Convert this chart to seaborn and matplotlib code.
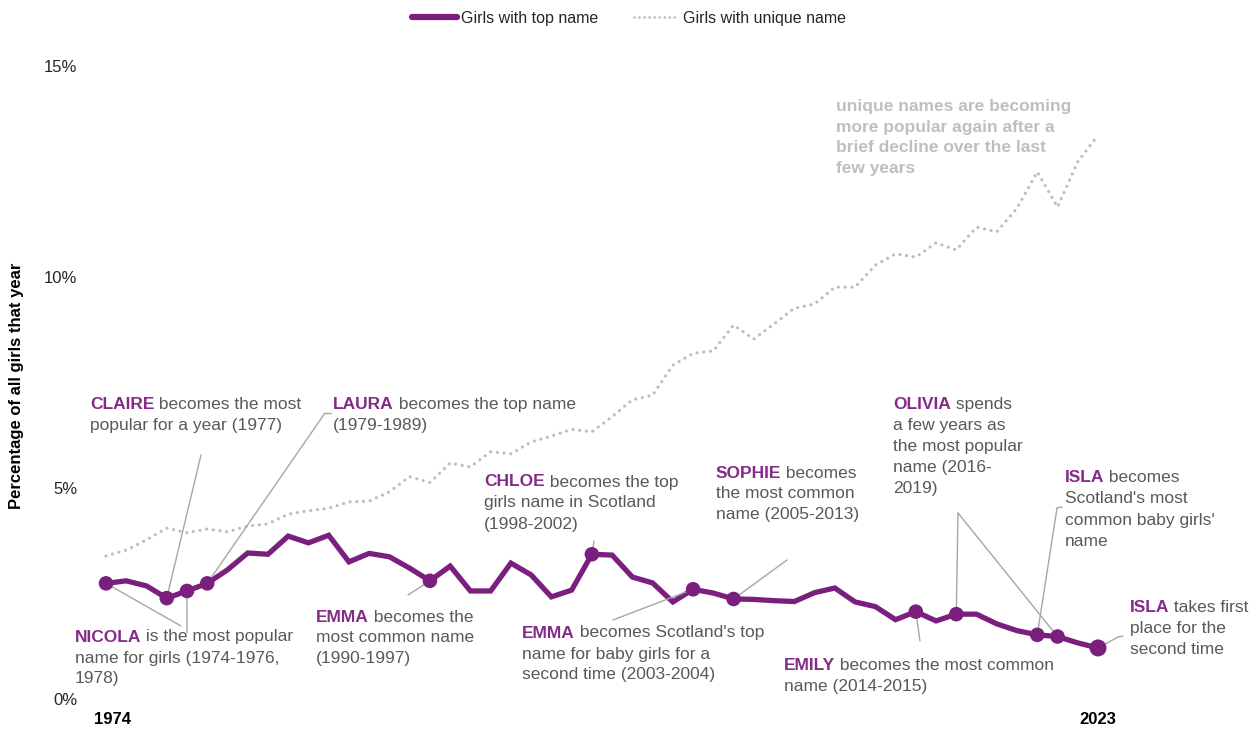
import matplotlib
matplotlib.use("Agg")
import matplotlib.pyplot as plt
import matplotlib.transforms as mtransforms
import seaborn as sns
import pandas as pd
from matplotlib.lines import Line2D

# ---------------- data ----------------
years = list(range(1974, 2024))
top_name_pct = [2.74, 2.80, 2.68, 2.39, 2.56, 2.74, 3.06, 3.46, 3.43, 3.86,
                3.70, 3.88, 3.25, 3.45, 3.37, 3.10, 2.80, 3.15, 2.56, 2.56,
                3.22, 2.94, 2.42, 2.58, 3.43, 3.41, 2.89, 2.75, 2.30, 2.60,
                2.51, 2.37, 2.36, 2.33, 2.31, 2.52, 2.63, 2.30, 2.19, 1.88,
                2.07, 1.85, 2.01, 2.01, 1.78, 1.62, 1.52, 1.48, 1.33, 1.21]
unique_name_pct = [3.39, 3.53, 3.77, 4.05, 3.94, 4.03, 3.96, 4.10, 4.15, 4.38,
                   4.46, 4.52, 4.67, 4.69, 4.91, 5.27, 5.13, 5.59, 5.50, 5.86,
                   5.81, 6.09, 6.23, 6.39, 6.33, 6.69, 7.09, 7.20, 7.91, 8.19,
                   8.25, 8.86, 8.53, 8.89, 9.26, 9.36, 9.76, 9.76, 10.28, 10.55,
                   10.47, 10.81, 10.64, 11.18, 11.07, 11.63, 12.49, 11.66, 12.73, 13.36]
marker_years = [1974, 1977, 1978, 1979, 1990, 1998, 2003, 2005, 2014, 2016, 2020, 2021, 2023]
series_labels = ["Girls with top name", "Girls with unique name"]
y_ticks = [0, 5, 10, 15]
y_tick_labels = ["0%", "5%", "10%", "15%"]
x_ticks = [1974, 2023]
y_label = "Percentage of all girls that year"

notes = [
    ("CLAIRE", " becomes the most", ["popular for a year (1977)"]),
    ("LAURA", " becomes the top name", ["(1979-1989)"]),
    ("NICOLA", " is the most popular", ["name for girls (1974-1976,", "1978)"]),
    ("EMMA", " becomes the", ["most common name", "(1990-1997)"]),
    ("CHLOE", " becomes the top", ["girls name in Scotland", "(1998-2002)"]),
    ("EMMA", " becomes Scotland's top", ["name for baby girls for a", "second time (2003-2004)"]),
    ("SOPHIE", " becomes", ["the most common", "name (2005-2013)"]),
    ("OLIVIA", " spends", ["a few years as", "the most popular", "name (2016-", "2019)"]),
    ("ISLA", " becomes", ["Scotland's most", "common baby girls'", "name"]),
    ("EMILY", " becomes the most common", ["name (2014-2015)"]),
    ("ISLA", " takes first", ["place for the", "second time"]),
]
unique_note = ["unique names are becoming", "more popular again after a",
               "brief decline over the last", "few years"]

# ---------------- layout (pixels in the 1258x729 canvas) ----------------
W, H = 1258, 729
X0_PX, PX_PER_YEAR = 85.76, 20.245   # pixel of x=1973
Y0_PX, PX_PER_PCT = 699.0, 42.2      # pixel of y=0

def px_x(px):
    return 1973 + (px - X0_PX) / PX_PER_YEAR

def px_y(py):
    return (Y0_PX - py) / PX_PER_PCT

note_pos = [(90, 405), (333, 405), (75, 637), (316, 617), (484, 482), (522, 633),
            (716, 473), (893, 405), (1065, 478), (784, 665), (1130, 608)]
# leader lines: (start pixel, target year, small tick end pixel or None)
leaders = [((201, 455), 1977, None),
           ((325, 413), 1979, (331, 413)),
           ((181, 626), 1974, None),
           ((187, 633), 1978, None),
           ((408, 595), 1990, None),
           ((594, 541), 1998, None),
           ((613, 620), 2003, None),
           ((787, 560), 2005, None),
           ((958, 513), 2016, None),
           ((958, 513), 2021, None),
           ((1057, 508), 2020, (1062, 507)),
           ((920, 641), 2014, None),
           ((1118, 637), 2023, (1123, 636))]

PURPLE = "#7B1F7E"
NAME_PURPLE = "#842B88"
GREY_TXT = "#595959"
DOT_GREY = "#BDBDBD"
LEADER = "#A6A6A6"

sns.set_theme(style="white")
plt.rcParams["font.family"] = ["Liberation Sans", "DejaVu Sans"]

fig = plt.figure(figsize=(W / 100, H / 100), dpi=100)
ax = fig.add_axes([X0_PX / W, (H - Y0_PX) / H,
                   (PX_PER_YEAR * 51) / W, (PX_PER_PCT * 15) / H])

df = pd.DataFrame({"year": years, "top": top_name_pct, "unique": unique_name_pct})
sns.lineplot(data=df, x="year", y="unique", ax=ax, color=DOT_GREY, lw=2.3,
             linestyle=(0, (0.01, 2.1)), dash_capstyle="round", zorder=2)
sns.lineplot(data=df, x="year", y="top", ax=ax, color=PURPLE, lw=3.8,
             solid_joinstyle="miter", zorder=3)
mk = df[df["year"].isin(marker_years)]
sizes = [150 if y == 2023 else 110 for y in mk["year"]]
ax.scatter(mk["year"], mk["top"], s=sizes, color=PURPLE, zorder=5,
           linewidths=0, clip_on=False)

ax.set_xlim(1973, 2024)
ax.set_ylim(0, 15)
ax.set_yticks(y_ticks)
ax.set_yticklabels(y_tick_labels, fontsize=12, color="#262626")
ax.set_xticks(x_ticks)
ax.set_xticklabels([str(x) for x in x_ticks], fontsize=12, fontweight="bold", color="#000000")
ax.tick_params(axis="both", length=0)
ax.tick_params(axis="x", pad=9)
ax.tick_params(axis="y", pad=6)
first_lbl = ax.get_xticklabels()[0]
first_lbl.set_transform(first_lbl.get_transform() +
                        mtransforms.ScaledTranslation(6 / 100, 0, fig.dpi_scale_trans))
ax.set_xlabel("")
ax.set_ylabel("")
for s in ax.spines.values():
    s.set_visible(False)
fig.text(17 / W, 1 - 386 / H, y_label, rotation=90, ha="center", va="center",
         fontsize=12, fontweight="bold", color="#000000")

# leader lines
top_by_year = dict(zip(years, top_name_pct))
for (sx, sy), yr, tick in leaders:
    ax.plot([px_x(sx), yr], [px_y(sy), top_by_year[yr]], color=LEADER, lw=1.0,
            zorder=4, clip_on=False)
    if tick is not None:
        ax.plot([px_x(sx), px_x(tick[0])], [px_y(sy), px_y(tick[1])], color=LEADER,
                lw=1.0, zorder=4, clip_on=False)

# annotations
FS = 12.5
LINE_PX = 21
for (name, rest, more), (lx, ly) in zip(notes, note_pos):
    t = ax.text(px_x(lx), px_y(ly), name, fontsize=FS, fontweight="bold",
                color=NAME_PURPLE, ha="left", va="center", zorder=6)
    ax.annotate(rest, xy=(1, 0.5), xycoords=t, fontsize=FS, color=GREY_TXT,
                ha="left", va="center", zorder=6)
    for i, line in enumerate(more, start=1):
        ax.text(px_x(lx), px_y(ly + i * LINE_PX), line, fontsize=FS, color=GREY_TXT,
                ha="left", va="center", zorder=6)

for i, line in enumerate(unique_note):
    ax.text(px_x(836), px_y(107 + i * 20.5), line, fontsize=FS, fontweight="bold",
            color="#BFBFBF", ha="left", va="center", zorder=6)

handles = [Line2D([0], [0], color=PURPLE, lw=4.5),
           Line2D([0], [0], color=DOT_GREY, lw=2.0, linestyle=(0, (0.01, 1.8)),
                  dash_capstyle="round")]
fig.legend(handles, series_labels, loc="center", bbox_to_anchor=(0.5, 1 - 18 / H),
           ncol=2, frameon=False, fontsize=11.5, handlelength=2.8, handletextpad=0.3,
           columnspacing=2.2)

fig.savefig("out.png", dpi=100)
